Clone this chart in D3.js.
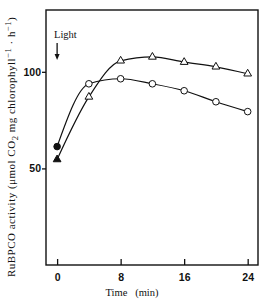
<!DOCTYPE html>
<html>
<head>
<meta charset="utf-8">
<script src="https://cdn.jsdelivr.net/npm/d3@7"></script>
<style>
  body { margin: 0; background: #fff; }
  svg { display: block; }
</style>
</head>
<body>
<div id="chart"></div>
<script>
// time (min)
var times = [0, 4, 8, 12, 16, 20, 24];
// RuBPCO activity, circles and triangles
var circleValues = [61.3, 93.8, 96.4, 93.8, 90.2, 84.5, 79.4];
var triangleValues = [54.6, 87, 105.7, 107.7, 105, 102.6, 99];
var xTicks = [0, 8, 16, 24];
var yTicks = [50, 100];

function init() {
    var w = 264;
    var h = 299;
    var left = 46, right = 258, top = 10, bottom = 265;

    var svg = d3.select("#chart")
                .append("svg")
                .attr("width", w)
                .attr("height", h);

    var x = d3.scaleLinear().domain([-1.4, 25.3]).range([left, right]);
    var y = d3.scaleLinear().domain([0, 132]).range([bottom, top]);

    // frame
    svg.append("rect")
        .attr("x", left).attr("y", top)
        .attr("width", right - left).attr("height", bottom - top)
        .attr("fill", "none").attr("stroke", "#111").attr("stroke-width", 1.4);

    var xAxis = svg.append("g")
        .attr("transform", "translate(0," + bottom + ")")
        .call(d3.axisBottom(x).tickValues(xTicks).tickSizeInner(-6).tickSizeOuter(0).tickPadding(9));
    xAxis.select(".domain").remove();

    var yAxis = svg.append("g")
        .attr("transform", "translate(" + left + ",0)")
        .call(d3.axisLeft(y).tickValues(yTicks).tickSize(4).tickPadding(1));
    yAxis.select(".domain").remove();

    svg.selectAll(".tick line").attr("stroke", "#111").attr("stroke-width", 1.3);
    svg.selectAll(".tick text")
        .attr("fill", "#111")
        .style("font-family", "Liberation Sans, Arial, sans-serif")
        .style("font-size", "10.5px")
        .style("font-weight", "bold");

    var line = d3.line()
        .x(function(d, i) { return x(times[i]); })
        .y(function(d) { return y(d); })
        .curve(d3.curveMonotoneX);

    [circleValues, triangleValues].forEach(function(vals) {
        svg.append("path")
            .attr("d", line(vals))
            .attr("fill", "none")
            .attr("stroke", "#111")
            .attr("stroke-width", 1.2);
    });

    svg.selectAll("circle.pt")
        .data(circleValues)
        .enter()
        .append("circle")
        .attr("class", "pt")
        .attr("cx", function(d, i) { return x(times[i]); })
        .attr("cy", function(d) { return y(d); })
        .attr("r", 3.3)
        .attr("fill", function(d, i) { return i == 0 ? "#111" : "#fff"; })
        .attr("stroke", "#111")
        .attr("stroke-width", 1);

    var tri = d3.symbol().type(d3.symbolTriangle).size(26);
    svg.selectAll("path.tri")
        .data(triangleValues)
        .enter()
        .append("path")
        .attr("class", "tri")
        .attr("d", tri)
        .attr("transform", function(d, i) {
            return "translate(" + x(times[i]) + "," + y(d) + ")";
        })
        .attr("fill", function(d, i) { return i == 0 ? "#111" : "#fff"; })
        .attr("stroke", "#111")
        .attr("stroke-width", 1);

    // Light arrow
    svg.append("text")
        .attr("x", 54).attr("y", 38)
        .style("font-family", "Liberation Serif, serif")
        .style("font-size", "10.5px")
        .attr("fill", "#111")
        .text("Light");
    svg.append("line")
        .attr("x1", x(0)).attr("x2", x(0))
        .attr("y1", 43).attr("y2", 56)
        .attr("stroke", "#111").attr("stroke-width", 1.3);
    svg.append("path")
        .attr("d", "M" + (x(0) - 2.5) + ",54 L" + (x(0) + 2.5) + ",54 L" + x(0) + ",60 Z")
        .attr("fill", "#111");

    // axis titles
    svg.append("text")
        .attr("x", 132).attr("y", 296)
        .attr("text-anchor", "middle")
        .style("font-family", "Liberation Serif, serif")
        .style("font-size", "10.5px")
        .style("white-space", "pre")
        .attr("fill", "#111")
        .text("Time   (min)");

    var yl = svg.append("text")
        .attr("transform", "translate(15,147) rotate(-90)")
        .attr("text-anchor", "middle")
        .style("font-family", "Liberation Serif, serif")
        .style("font-size", "11px")
        .style("letter-spacing", "0.5px")
        .attr("fill", "#111");
    yl.append("tspan").text("RuBPCO activity (μmol CO");
    yl.append("tspan").attr("dy", 3).style("font-size", "8.5px").text("2");
    yl.append("tspan").attr("dy", -3).text(" mg chlorophyll");
    yl.append("tspan").attr("dy", -4).style("font-size", "8.5px").text("−1");
    yl.append("tspan").attr("dy", 4).text(" · h");
    yl.append("tspan").attr("dy", -4).style("font-size", "8.5px").text("−1");
    yl.append("tspan").attr("dy", 4).text(")");
}

window.onload = init;
</script>
</body>
</html>
